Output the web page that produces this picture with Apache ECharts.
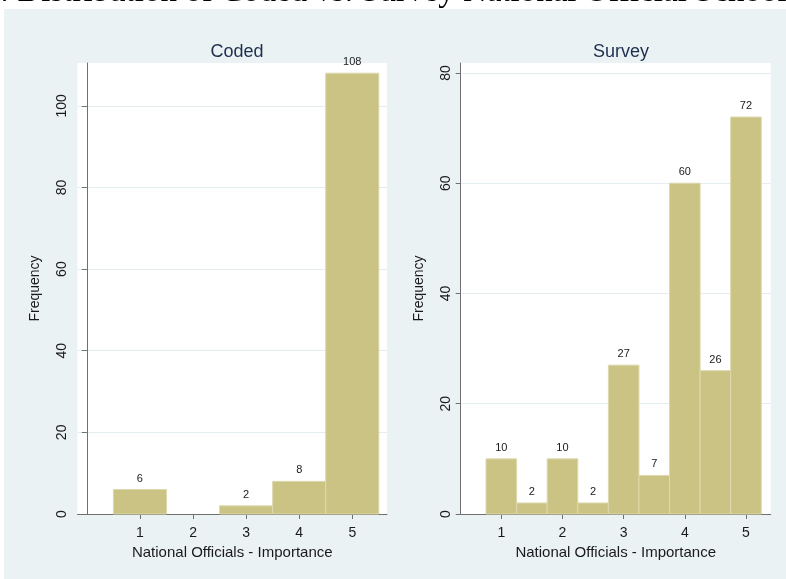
<!DOCTYPE html>
<html>
<head>
<meta charset="utf-8">
<script src="https://cdn.jsdelivr.net/npm/echarts@6/dist/echarts.min.js"></script>
<style>
html,body{margin:0;padding:0;background:#ffffff;}
#chart{width:786px;height:579px;}
</style>
</head>
<body>
<div id="chart"></div>
<script>
// ---- Data ----
const importanceTicks = [1, 2, 3, 4, 5];
const codedCenters = [1, 2, 3, 4, 5];
const codedValues = [6, 0, 2, 8, 108];
const codedBinWidth = 1;
const surveyCenters = [1, 1.5, 2, 2.5, 3, 3.5, 4, 4.5, 5];
const surveyValues = [10, 2, 10, 2, 27, 7, 60, 26, 72];
const surveyBinWidth = 0.5;
const codedYTicks = [0, 20, 40, 60, 80, 100];
const surveyYTicks = [0, 20, 40, 60, 80];

const figTitleLead = 'Figure 1';
const figTitleRest = ': Distribution of Coded vs. Survey National Official School Importance';
const panelTitles = ['Coded', 'Survey'];
const xName = 'National Officials - Importance';
const yName = 'Frequency';

// ---- Style ----
const FONT = '"Liberation Sans", Arial, sans-serif';
const SERIF = '"Liberation Serif", "Times New Roman", serif';
const BAR_FILL = '#CBC384';
const BAR_STROKE = '#DDD8AE';
const AXIS_COLOR = '#6f6f6f';
const GRID_COLOR = '#E4EDEF';
const TEXT_COLOR = '#1a1a1a';

const chart = echarts.init(document.getElementById('chart'), null, {renderer: 'canvas'});

function makeRender(binWidth) {
  return function (params, api) {
    const x = api.value(0), v = api.value(1);
    if (!(v > 0)) return null;
    const p0 = api.coord([x - binWidth / 2, v]);
    const p1 = api.coord([x + binWidth / 2, 0]);
    return {
      type: 'rect',
      shape: {x: p0[0], y: p0[1], width: p1[0] - p0[0], height: p1[1] - p0[1]},
      style: {fill: BAR_FILL, stroke: BAR_STROKE, lineWidth: 1},
      textContent: {
        style: {text: String(v), font: '11px ' + FONT, fill: TEXT_COLOR}
      },
      textConfig: {position: 'top', distance: 5}
    };
  };
}

function xAxisCfg(gridIndex, min, max) {
  return {
    type: 'value', gridIndex: gridIndex, min: min, max: max,
    name: xName, nameLocation: 'middle', nameGap: 23,
    nameTextStyle: {fontFamily: FONT, fontSize: 15, color: TEXT_COLOR},
    axisLine: {show: true, onZero: false, lineStyle: {color: AXIS_COLOR, width: 1}},
    axisTick: {show: true, length: 5, lineStyle: {color: AXIS_COLOR}, customValues: importanceTicks},
    axisLabel: {show: true, margin: 12, fontFamily: FONT, fontSize: 14, color: TEXT_COLOR, customValues: importanceTicks},
    splitLine: {show: false}
  };
}

function yAxisCfg(gridIndex, max, ticks) {
  return {
    type: 'value', gridIndex: gridIndex, min: 0, max: max,
    name: yName, nameLocation: 'middle', nameGap: 35, nameRotate: 90,
    nameTextStyle: {fontFamily: FONT, fontSize: 14, color: TEXT_COLOR},
    axisLine: {show: true, lineStyle: {color: AXIS_COLOR, width: 1}},
    axisTick: {show: true, length: 5, lineStyle: {color: AXIS_COLOR}, customValues: ticks},
    axisLabel: {show: true, rotate: 90, margin: 8, fontFamily: FONT, fontSize: 14, color: TEXT_COLOR, customValues: ticks},
    splitLine: {show: true, lineStyle: {color: GRID_COLOR, width: 1}, customValues: ticks}
  };
}

const option = {
  animation: false,
  backgroundColor: '#ffffff',
  graphic: [
    {type: 'rect', z: -10, shape: {x: 4, y: 9, width: 800, height: 580}, style: {fill: '#EAF2F3'}},
    {type: 'text', z: 10, style: {x: 0, y: 9, text: figTitleLead, align: 'right', verticalAlign: 'bottom', font: '33px ' + SERIF, fill: '#000'}},
    {type: 'text', z: 10, style: {x: 0, y: 9, text: figTitleRest, align: 'left', verticalAlign: 'bottom', font: '33px ' + SERIF, fill: '#000'}}
  ],
  title: [
    {text: panelTitles[0], left: 232, top: 38, textAlign: 'center', textStyle: {fontFamily: FONT, fontSize: 18, fontWeight: 'normal', color: '#1E2E4F'}},
    {text: panelTitles[1], left: 616, top: 38, textAlign: 'center', textStyle: {fontFamily: FONT, fontSize: 18, fontWeight: 'normal', color: '#1E2E4F'}}
  ],
  grid: [
    {left: 77.5, top: 63, width: 309.5, height: 451, show: true, backgroundColor: '#ffffff', borderWidth: 0},
    {left: 460.7, top: 63, width: 310, height: 451, show: true, backgroundColor: '#ffffff', borderWidth: 0}
  ],
  xAxis: [
    xAxisCfg(0, -0.176, 5.654),
    xAxisCfg(1, 0.336, 5.404)
  ],
  yAxis: [
    yAxisCfg(0, 110.5, codedYTicks),
    yAxisCfg(1, 81.8, surveyYTicks)
  ],
  series: [
    {
      type: 'custom', xAxisIndex: 0, yAxisIndex: 0,
      renderItem: makeRender(codedBinWidth),
      data: codedCenters.map((c, i) => [c, codedValues[i]]),
      clip: false
    },
    {
      type: 'custom', xAxisIndex: 1, yAxisIndex: 1,
      renderItem: makeRender(surveyBinWidth),
      data: surveyCenters.map((c, i) => [c, surveyValues[i]]),
      clip: false
    }
  ]
};
chart.setOption(option);
</script>
</body>
</html>
